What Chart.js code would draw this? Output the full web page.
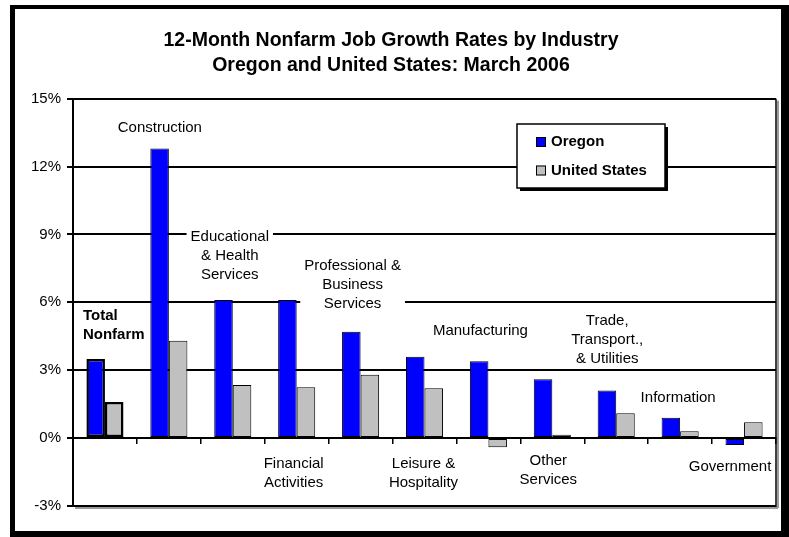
<!DOCTYPE html>
<html lang="en">
<head>
<meta charset="UTF-8" />
<title>12-Month Nonfarm Job Growth Rates by Industry</title>
<script src="https://cdn.jsdelivr.net/npm/chart.js"></script>
<style>
  body { margin: 0; background: #fff; }
  #wrap { width: 789px; height: 537px; position: relative; }
</style>
</head>
<body>
<div id="wrap"><canvas id="jobChart"></canvas></div>
<script>
// data
const industries = [
  ["Total", "Nonfarm"],
  ["Construction"],
  ["Educational", "& Health", "Services"],
  ["Financial", "Activities"],
  ["Professional &", "Business", "Services"],
  ["Leisure &", "Hospitality"],
  ["Manufacturing"],
  ["Other", "Services"],
  ["Trade,", "Transport.,", "& Utilities"],
  ["Information"],
  ["Government"]
];
const oregon = [3.5, 12.8, 6.1, 6.1, 4.7, 3.6, 3.4, 2.6, 2.1, 0.9, -0.3];
const unitedStates = [1.6, 4.3, 2.35, 2.25, 2.8, 2.2, -0.4, 0.15, 1.1, 0.3, 0.7];
const yTicks = [-3, 0, 3, 6, 9, 12, 15];

const FONT = '"Liberation Sans", Arial, sans-serif';

// where each category label sits: pixel shift from the category centre, value on the y scale
const labelSpots = [
  { dx: -22, y: 5.38, align: "left", bold: true },
  { dx: -9, y: 13.73 },
  { dx: -3, y: 8.91, box: true },
  { dx: -3, y: -1.13 },
  { dx: -8, y: 7.63, box: true },
  { dx: -1, y: -1.13 },
  { dx: -8, y: 4.72 },
  { dx: -4, y: -1.0 },
  { dx: -9, y: 5.2 },
  { dx: -2, y: 1.79 },
  { dx: -14, y: -1.26 }
];

const decorations = {
  id: "decorations",
  beforeDatasetsDraw(chart) {
    const { ctx, chartArea: ca } = chart;
    ctx.save();
    ctx.fillStyle = "#9a9a9a";
    ctx.fillRect(ca.left + 2, ca.bottom + 1, ca.right - ca.left, 2);
    ctx.fillRect(ca.right + 1, ca.top + 2, 2, ca.bottom - ca.top);
    ctx.strokeStyle = "#000";
    ctx.lineWidth = 1.5;
    ctx.beginPath();
    ctx.moveTo(ca.right, ca.top);
    ctx.lineTo(ca.right, ca.bottom + 1);
    ctx.stroke();
    ctx.restore();
  },
  afterDraw(chart) {
    const { ctx } = chart;
    const xs = chart.scales.x, ys = chart.scales.y;
    ctx.save();
    ctx.textBaseline = "middle";

    // category labels
    industries.forEach((lines, i) => {
      const spot = labelSpots[i];
      const x = xs.getPixelForValue(i) + spot.dx;
      const y0 = ys.getPixelForValue(spot.y);
      ctx.font = (spot.bold ? "bold " : "") + "15px " + FONT;
      ctx.textAlign = spot.align || "center";
      if (spot.box) {
        const w = Math.max(...lines.map(t => ctx.measureText(t).width)) + 8;
        ctx.fillStyle = "#fff";
        ctx.fillRect(x - w / 2, y0 - 10, w, lines.length * 19 + 2);
      }
      ctx.fillStyle = "#000";
      lines.forEach((t, k) => ctx.fillText(t, x, y0 + k * 19));
    });

    // legend box
    const lx = 517, ly = 124, lw = 148, lh = 64;
    ctx.fillStyle = "#000";
    ctx.fillRect(lx + 3, ly + 3, lw, lh);
    ctx.fillStyle = "#fff";
    ctx.fillRect(lx, ly, lw, lh);
    ctx.strokeStyle = "#000";
    ctx.lineWidth = 1.5;
    ctx.strokeRect(lx, ly, lw, lh);
    ctx.font = "bold 15px " + FONT;
    ctx.textAlign = "left";
    chart.data.datasets.forEach((ds, i) => {
      const cy = ly + 18 + i * 28.5;
      ctx.fillStyle = ds.backgroundColor;
      ctx.fillRect(lx + 19, cy - 5, 10, 10);
      ctx.lineWidth = 1;
      ctx.strokeRect(lx + 19.5, cy - 4.5, 9, 9);
      ctx.fillStyle = "#000";
      ctx.fillText(ds.label, lx + 34, cy);
    });

    // outer frame
    ctx.fillStyle = "#000";
    ctx.fillRect(10, 5, 779, 4);
    ctx.fillRect(10, 5, 5, 531);
    ctx.fillRect(781, 5, 8, 532);
    ctx.fillRect(10, 531, 779, 6);
    ctx.restore();
  }
};

const ctx = document.getElementById("jobChart").getContext("2d");

new Chart(ctx, {
  type: "bar",
  data: {
    labels: industries,
    datasets: [
      {
        label: "Oregon",
        data: oregon,
        backgroundColor: "#0000FF",
        borderColor: "#000",
        borderWidth: [2.5, 1, 1, 1, 1, 1, 1, 1, 1, 1, 1],
        borderSkipped: false
      },
      {
        label: "United States",
        data: unitedStates,
        backgroundColor: "#C0C0C0",
        borderColor: "#000",
        borderWidth: [2.5, 1, 1, 1, 1, 1, 1, 1, 1, 1, 1],
        borderSkipped: false
      }
    ]
  },
  options: {
    responsive: true,
    maintainAspectRatio: false,
    animation: false,
    categoryPercentage: 0.58,
    barPercentage: 1,
    layout: { padding: { top: 28.6, left: 6, right: 13, bottom: 31 } },
    plugins: {
      legend: { display: false },
      tooltip: { enabled: false },
      title: {
        display: true,
        text: ["12-Month Nonfarm Job Growth Rates by Industry", "Oregon and United States: March 2006"],
        color: "#000",
        font: { family: FONT, size: 19.5, weight: "bold", lineHeight: 1.27 },
        padding: { top: 0, bottom: 20.5 }
      }
    },
    scales: {
      x: {
        position: { y: 0 },
        grid: { offset: true, drawOnChartArea: false, drawTicks: true, tickLength: 5, color: "#000", lineWidth: 1.5 },
        border: { display: true, color: "#000", width: 2 },
        ticks: { display: false }
      },
      y: {
        min: yTicks[0],
        max: yTicks[yTicks.length - 1],
        afterBuildTicks: s => { s.ticks = yTicks.map(v => ({ value: v })); },
        afterFit: s => { s.width = 67; },
        grid: { color: "#000", lineWidth: 2, tickLength: 6 },
        border: { display: true, color: "#000", width: 2 },
        ticks: {
          color: "#000",
          padding: 6,
          font: { family: FONT, size: 15 },
          callback: v => v + "%"
        }
      }
    }
  },
  plugins: [decorations]
});
</script>
</body>
</html>
